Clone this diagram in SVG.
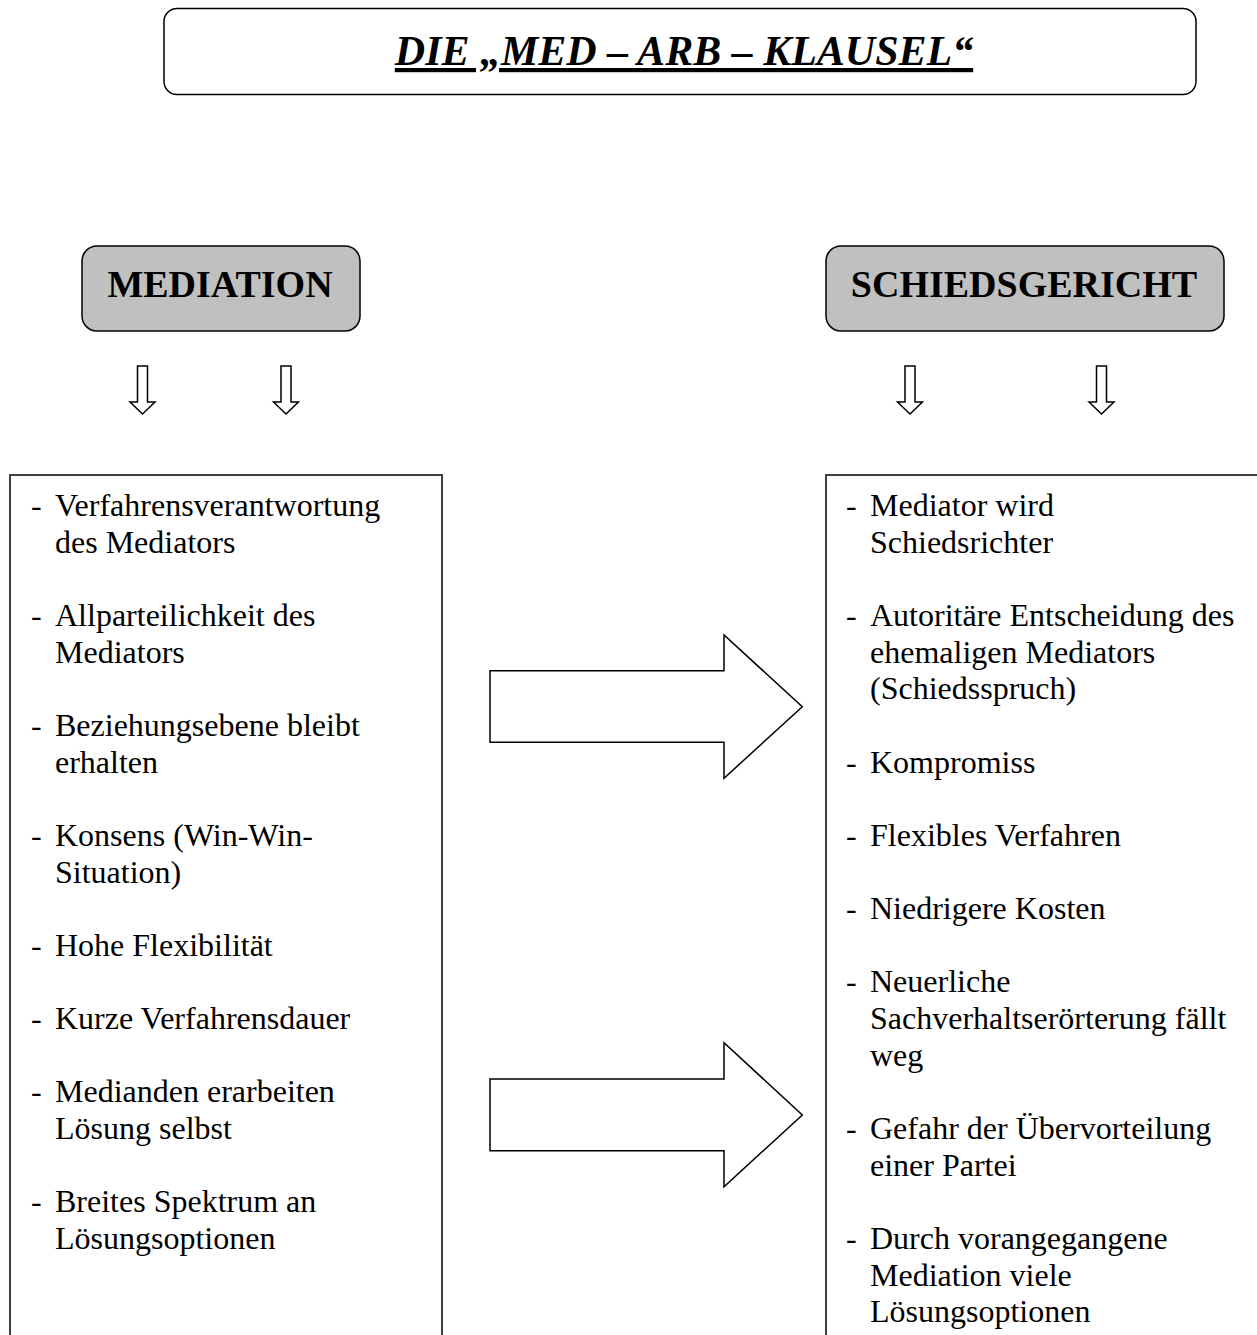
<svg xmlns="http://www.w3.org/2000/svg" width="1257" height="1335" viewBox="0 0 1257 1335">
<style>
.title{font-family:"Liberation Serif","Times New Roman",serif;font-size:42px;font-weight:bold;font-style:italic;text-decoration:underline}
.head{font-family:"Liberation Serif","Times New Roman",serif;font-size:38px;font-weight:bold;text-anchor:middle}
.item{font-family:"Liberation Serif","Times New Roman",serif;font-size:32px;fill:#000}
.rbox{fill:#c0c0c0;stroke:#000;stroke-width:1.5}
.list{fill:#fff;stroke:#404040;stroke-width:2}
.arr{fill:#fff;stroke:#000;stroke-width:1.5;stroke-linejoin:miter}
</style>
<rect width="1257" height="1335" fill="#fff"/>
<g id="title">
<rect x="164" y="8.5" width="1032" height="86" rx="13" fill="#fff" stroke="#000" stroke-width="1.5"/>
<text class="title" x="684" y="65" text-anchor="middle">DIE „MED – ARB – KLAUSEL“</text>
</g>
<g id="mediation">
<rect class="rbox" x="82" y="246" width="278" height="85" rx="15"/>
<text class="head" x="220" y="297">MEDIATION</text>
</g>
<g id="schiedsgericht">
<rect class="rbox" x="826" y="246" width="398" height="85" rx="15"/>
<text class="head" x="1024" y="297">SCHIEDSGERICHT</text>
</g>
<g id="mediation-list">
<rect class="list" x="10" y="475" width="432" height="880"/>
<g class="item">
<text x="31" y="516">-</text><text x="55" y="516">Verfahrensverantwortung</text>
<text x="55" y="552.7">des Mediators</text>
<text x="31" y="626">-</text><text x="55" y="626">Allparteilichkeit des</text>
<text x="55" y="662.6">Mediators</text>
<text x="31" y="736">-</text><text x="55" y="736">Beziehungsebene bleibt</text>
<text x="55" y="772.5">erhalten</text>
<text x="31" y="845.8">-</text><text x="55" y="845.8">Konsens (Win-Win-</text>
<text x="55" y="882.5">Situation)</text>
<text x="31" y="955.8">-</text><text x="55" y="955.8">Hohe Flexibilität</text>
<text x="31" y="1029.1">-</text><text x="55" y="1029.1">Kurze Verfahrensdauer</text>
<text x="31" y="1102.4">-</text><text x="55" y="1102.4">Medianden erarbeiten</text>
<text x="55" y="1139">Lösung selbst</text>
<text x="31" y="1212.4">-</text><text x="55" y="1212.4">Breites Spektrum an</text>
<text x="55" y="1249">Lösungsoptionen</text>
</g>
</g>
<g id="schiedsgericht-list">
<rect class="list" x="826" y="475" width="480" height="880"/>
<g class="item">
<text x="846" y="516">-</text><text x="870" y="516">Mediator wird</text>
<text x="870" y="552.6">Schiedsrichter</text>
<text x="846" y="626">-</text><text x="870" y="626">Autoritäre Entscheidung des</text>
<text x="870" y="662.6">ehemaligen Mediators</text>
<text x="870" y="699.2">(Schiedsspruch)</text>
<text x="846" y="772.5">-</text><text x="870" y="772.5">Kompromiss</text>
<text x="846" y="845.8">-</text><text x="870" y="845.8">Flexibles Verfahren</text>
<text x="846" y="919.1">-</text><text x="870" y="919.1">Niedrigere Kosten</text>
<text x="846" y="992.4">-</text><text x="870" y="992.4">Neuerliche</text>
<text x="870" y="1029.1">Sachverhaltserörterung fällt</text>
<text x="870" y="1065.7">weg</text>
<text x="846" y="1139">-</text><text x="870" y="1139">Gefahr der Übervorteilung</text>
<text x="870" y="1175.7">einer Partei</text>
<text x="846" y="1249">-</text><text x="870" y="1249">Durch vorangegangene</text>
<text x="870" y="1285.7">Mediation viele</text>
<text x="870" y="1322.3">Lösungsoptionen</text>
</g>
</g>
<g id="connectors">
<polygon class="arr" points="137.5,366 147.5,366 147.5,402 155,402 142.5,414 130,402 137.5,402"/>
<polygon class="arr" points="281,366 291,366 291,402 298.5,402 286,414 273.5,402 281,402"/>
<polygon class="arr" points="905,366 915,366 915,402 922.5,402 910,414 897.5,402 905,402"/>
<polygon class="arr" points="1096.5,366 1106.5,366 1106.5,402 1114,402 1101.5,414 1089,402 1096.5,402"/>
<polygon class="arr" points="490,670.7 724,670.7 724,635 802.3,706.7 724,778.3 724,742.3 490,742.3"/>
<polygon class="arr" points="490,1079 724,1079 724,1042.7 802.3,1115 724,1186.7 724,1150.7 490,1150.7"/>
</g>
</svg>
